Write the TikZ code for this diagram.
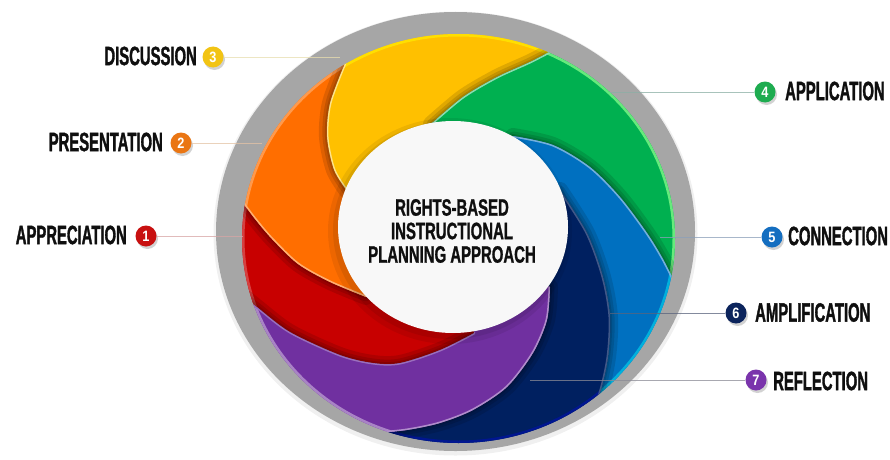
\documentclass[tikz,border=0pt]{standalone}
\usepackage{fontspec}
\setmainfont{Liberation Sans}
\newfontfamily\lblface{Liberation Sans Bold}[FakeStretch=0.56, FakeBold=1.2]
\newfontfamily\cenface{Liberation Sans Bold}[FakeStretch=0.63, FakeBold=1.0]
\newfontfamily\numface{Liberation Sans Bold}[FakeStretch=0.85]
\usetikzlibrary{shadows}

\definecolor{cY}{RGB}{255,192,0}
\definecolor{cG}{RGB}{0,176,80}
\definecolor{cB}{RGB}{0,112,192}
\definecolor{cN}{RGB}{0,32,96}
\definecolor{cP}{RGB}{112,48,160}
\definecolor{cR}{RGB}{200,0,0}
\definecolor{cO}{RGB}{255,110,0}
\definecolor{ring}{RGB}{166,166,166}
\definecolor{cW}{RGB}{248,248,248}
\definecolor{b1}{RGB}{200,16,16}
\definecolor{b2}{RGB}{234,118,20}
\definecolor{b3}{RGB}{242,196,20}
\definecolor{b4}{RGB}{30,172,80}
\definecolor{b5}{RGB}{20,110,192}
\definecolor{b6}{RGB}{12,36,92}
\definecolor{b7}{RGB}{122,52,172}
\definecolor{ink}{RGB}{15,15,15}
\definecolor{l1}{RGB}{215,165,165}
\definecolor{l2}{RGB}{228,195,165}
\definecolor{l3}{RGB}{232,222,175}
\definecolor{l4}{RGB}{140,175,165}
\definecolor{l5}{RGB}{140,160,185}
\definecolor{l6}{RGB}{90,100,125}
\definecolor{l7}{RGB}{140,140,150}

% boundary curves (inner -> outer) and reversed
\def\ptsOY{(347,268) (334,289) (327,322) (330,356) (345,396)}
\def\rtsOY{(345,396) (330,356) (327,322) (334,289) (347,268)}
\def\ptsYG{(431,335) (463,362) (497,382) (530,397) (555,410)}
\def\rtsYG{(555,410) (530,397) (497,382) (463,362) (431,335)}
\def\ptsGB{(513,323) (553,314) (590,292) (620,262) (647,226) (663,200) (676,174)}
\def\rtsGB{(676,174) (663,200) (647,226) (620,262) (590,292) (553,314) (513,323)}
\def\ptsBN{(560,269) (587,226) (603,182) (610,142) (608,102) (600,66) (587,36) (572,18)}
\def\rtsBN{(572,18) (587,36) (600,66) (608,102) (610,142) (603,182) (587,226) (560,269)}
\def\ptsNP{(550,172) (547,139) (533,106) (507,72) (473,49) (440,36) (407,29) (375,26) (350,26)}
\def\rtsNP{(350,26) (375,26) (407,29) (440,36) (473,49) (507,72) (533,106) (547,139) (550,172)}
\def\ptsPR{(474,126) (440,109) (400,96) (373,96) (340,104) (290,127) (257,152) (246,161)}
\def\rtsPR{(246,161) (257,152) (290,127) (340,104) (373,96) (400,96) (440,109) (474,126)}
\def\ptsRO{(366,162) (330,177) (298,195) (272,220) (255,240) (240,260)}
\def\rtsRO{(240,260) (255,240) (272,220) (298,195) (330,177) (366,162)}

\edef\regY{(C) -- plot[smooth] coordinates {\ptsOY} -- (F123) -- (F63) -- plot[smooth] coordinates {\rtsYG} -- cycle}
\edef\regG{(C) -- plot[smooth] coordinates {\ptsYG} -- (F63) -- (Fm12) -- plot[smooth] coordinates {\rtsGB} -- cycle}
\edef\regB{(C) -- plot[smooth] coordinates {\ptsGB} -- (Fm12) -- (Fm61) -- plot[smooth] coordinates {\rtsBN} -- cycle}
\edef\regN{(C) -- plot[smooth] coordinates {\ptsBN} -- (Fm61) -- (Fm119) -- plot[smooth] coordinates {\rtsNP} -- cycle}
\edef\regP{(C) -- plot[smooth] coordinates {\ptsNP} -- (Fm119) -- (Fm164) -- plot[smooth] coordinates {\rtsPR} -- cycle}
\edef\regR{(C) -- plot[smooth] coordinates {\ptsPR} -- (Fm164) -- (F170) -- plot[smooth] coordinates {\rtsRO} -- cycle}
\edef\regO{(C) -- plot[smooth] coordinates {\ptsRO} -- (F170) -- (F123) -- plot[smooth] coordinates {\rtsOY} -- cycle}

\edef\eOY{plot[smooth] coordinates {\ptsOY}}
\edef\eYG{plot[smooth] coordinates {\ptsYG}}
\edef\eGB{plot[smooth] coordinates {\ptsGB}}
\edef\eBN{plot[smooth] coordinates {\ptsBN}}
\edef\eNP{plot[smooth] coordinates {\ptsNP}}
\edef\ePR{plot[smooth] coordinates {\ptsPR}}
\edef\eRO{plot[smooth] coordinates {\ptsRO}}

\tikzset{
  shd/.style={draw=black, line width=#1, opacity=0.12, line cap=round},
  hil/.style={draw=#1, line width=3, line cap=round},
  rim/.style={draw=#1, line width=5},
  badge/.style={circle, fill=#1, minimum size=21, inner sep=0, text=white,
    font=\numface\fontsize{15}{15}\selectfont,
    drop shadow={shadow xshift=1.5pt, shadow yshift=-2.5pt, opacity=0.35}},
  lbl/.style={inner sep=0, text=ink, font=\lblface\fontsize{26.5}{26.5}\selectfont},
  conn/.style={draw=#1, line width=0.8, opacity=0.75}
}

\begin{document}
\begin{tikzpicture}[x=1pt,y=1pt]
\useasboundingbox (0,0) rectangle (890,459);
\fill[white] (0,0) rectangle (890,459);

\coordinate (C) at (455,232);
\coordinate (col) at (458.5,220.5);
\coordinate (F123) at (240.2,556.5);
\coordinate (F63) at (639.6,577.4);
\coordinate (Fm12) at (849.3,137.8);
\coordinate (Fm61) at (651.9,-128.8);
\coordinate (Fm119) at (264.1,-128.8);
\coordinate (Fm164) at (73.5,110.8);
\coordinate (F170) at (64.1,290.4);

% grey ring
\fill[black, opacity=0.06] (455.5,225.5) ellipse (242 and 222);
\fill[ring] (455.5,227.5) ellipse (239.5 and 219.5);

% swirl blades
\begin{scope}
\clip (col) ellipse (216.5 and 204.5);
\fill[cY] \regY;
\fill[cG] \regG;
\fill[cB] \regB;
\fill[cN] \regN;
\fill[cP] \regP;
\fill[cR] \regR;
\fill[cO] \regO;

\begin{scope}\clip \regY;
  \draw[rim={cY!50!yellow}] (col) ellipse (216.5 and 204.5);
  \draw[hil={cY!45!white}] \eOY;
  \draw[shd=16] \eYG; \draw[shd=9] \eYG; \draw[shd=4] \eYG;
\end{scope}
\begin{scope}\clip \regG;
  \draw[rim={cG!45!green!60!white}] (col) ellipse (216.5 and 204.5);
  \draw[hil={cG!45!white}] \eYG;
  \draw[shd=16] \eGB; \draw[shd=9] \eGB; \draw[shd=4] \eGB;
\end{scope}
\begin{scope}\clip \regB;
  \draw[rim={cB!55!cyan}] (col) ellipse (216.5 and 204.5);
  \draw[hil={cB!55!white}] \eGB;
  \draw[shd=16] \eBN; \draw[shd=9] \eBN; \draw[shd=4] \eBN;
\end{scope}
\begin{scope}\clip \regN;
  \draw[rim={cN!70!blue}] (col) ellipse (216.5 and 204.5);
  \draw[hil={cN!75!white}] \eBN;
  \draw[shd=16] \eNP; \draw[shd=9] \eNP; \draw[shd=4] \eNP;
\end{scope}
\begin{scope}\clip \regP;
  \draw[rim={cP!60!white}] (col) ellipse (216.5 and 204.5);
  \draw[hil={cP!55!white}] \eNP;
  \draw[hil={cP!70!white}] \ePR;
\end{scope}
\begin{scope}\clip \regR;
  \draw[rim={cR!75!white}] (col) ellipse (216.5 and 204.5);
  \draw[shd=16] \ePR; \draw[shd=9] \ePR; \draw[shd=4] \ePR;
  \draw[shd=16] \eRO; \draw[shd=9] \eRO; \draw[shd=4] \eRO;
\end{scope}
\begin{scope}\clip \regO;
  \draw[rim={cO!70!white}] (col) ellipse (216.5 and 204.5);
  \draw[hil={cO!55!white}] \eRO;
  \draw[shd=16] \eOY; \draw[shd=9] \eOY; \draw[shd=4] \eOY;
\end{scope}
\end{scope}

% centre disc
\fill[black, opacity=0.07] (450,228) ellipse (122 and 113);
\fill[black, opacity=0.08] (451,229) ellipse (118 and 109);
\fill[cW] (453,232) ellipse (115 and 106);
\node[font=\cenface\fontsize{23.7}{23.5}\selectfont, align=center, text=ink, inner sep=0]
  (title) at (452,228) {RIGHTS-BASED\\INSTRUCTIONAL\\PLANNING APPROACH};

% badges
\node[badge=b1] (n1) at (146,223) {1};
\node[badge=b2] (n2) at (181,316) {2};
\node[badge=b3] (n3) at (213,402) {3};
\node[badge=b4] (n4) at (765,367) {4};
\node[badge=b5] (n5) at (772,222) {5};
\node[badge=b6] (n6) at (736,146) {6};
\node[badge=b7] (n7) at (756,79) {7};

% labels
\node[lbl, anchor=east] (t1) at (127,224) {APPRECIATION};
\node[lbl, anchor=east] (t2) at (163,317) {PRESENTATION};
\node[lbl, anchor=east] (t3) at (197,403) {DISCUSSION};
\node[lbl, anchor=west] (t4) at (785,368) {APPLICATION};
\node[lbl, anchor=west] (t5) at (788,223) {CONNECTION};
\node[lbl, anchor=west] (t6) at (755,146.5) {AMPLIFICATION};
\node[lbl, anchor=west] (t7) at (773,78) {REFLECTION};

% connectors
\coordinate (e1) at (243,223);
\coordinate (e2) at (262,316);
\coordinate (e3) at (340,402);
\coordinate (e4) at (610,367);
\coordinate (e5) at (660,222);
\coordinate (e6) at (610,146);
\coordinate (e7) at (530,79);
\draw[conn=l1] (n1) -- (e1);
\draw[conn=l2] (n2) -- (e2);
\draw[conn=l3] (n3) -- (e3);
\draw[conn=l4] (n4) -- (e4);
\draw[conn=l5] (n5) -- (e5);
\draw[conn=l6] (n6) -- (e6);
\draw[conn=l7] (n7) -- (e7);
\end{tikzpicture}
\end{document}
